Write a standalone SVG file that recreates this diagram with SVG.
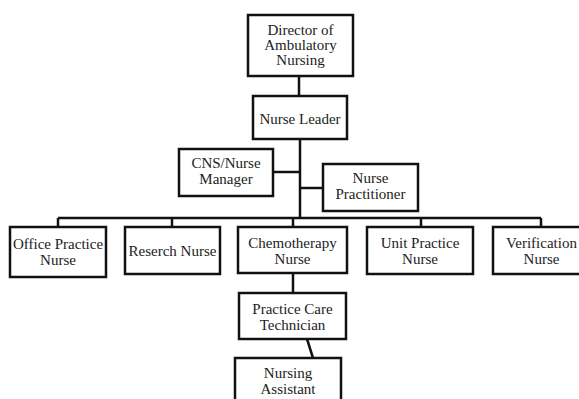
<svg xmlns="http://www.w3.org/2000/svg" width="579" height="399" viewBox="0 0 579 399">
<style>
.box{fill:#fff;stroke:#111;stroke-width:2.5}
.ln{fill:none;stroke:#111;stroke-width:2.5}
text{font-family:"Liberation Serif","Times New Roman",serif;font-size:15px;fill:#222;text-anchor:middle}
</style>
<rect width="579" height="399" fill="#fff"/>
<g id="connectors" class="ln">
<path d="M299,76V96"/>
<path d="M300,139V218"/>
<path d="M273,172H300"/>
<path d="M323,188H300"/>
<path d="M58,218H541"/>
<path d="M58,218V227"/>
<path d="M172,218V227"/>
<path d="M293,218V227"/>
<path d="M421,218V227"/>
<path d="M541,218V227"/>
<path d="M293,273V293"/>
<path d="M307,339L313,358"/>
</g>
<g id="director"><rect class="box" x="248" y="15" width="105" height="61"/><text x="300.5" y="35">Director of</text><text x="300.5" y="50">Ambulatory</text><text x="300.5" y="65">Nursing</text></g>
<g id="nurse-leader"><rect class="box" x="253" y="96" width="94" height="43"/><text x="300" y="124">Nurse Leader</text></g>
<g id="cns"><rect class="box" x="179" y="149" width="94" height="47"/><text x="226" y="168">CNS/Nurse</text><text x="226" y="184">Manager</text></g>
<g id="np"><rect class="box" x="323" y="164" width="95" height="47"/><text x="370.5" y="183">Nurse</text><text x="370.5" y="199">Practitioner</text></g>
<g id="office"><rect class="box" x="10" y="227" width="96" height="50"/><text x="58" y="249">Office Practice</text><text x="58" y="265">Nurse</text></g>
<g id="research"><rect class="box" x="125" y="227" width="95" height="47"/><text x="172.5" y="256">Reserch Nurse</text></g>
<g id="chemo"><rect class="box" x="238" y="227" width="109" height="46"/><text x="292.5" y="248">Chemotherapy</text><text x="292.5" y="264">Nurse</text></g>
<g id="unit"><rect class="box" x="367" y="227" width="106" height="47"/><text x="420" y="248">Unit Practice</text><text x="420" y="264">Nurse</text></g>
<g id="verification"><rect class="box" x="493" y="227" width="100" height="47"/><text x="541.5" y="248">Verification</text><text x="541.5" y="264">Nurse</text></g>
<g id="pct"><rect class="box" x="239" y="293" width="107" height="46"/><text x="292.5" y="314">Practice Care</text><text x="292.5" y="330">Technician</text></g>
<g id="na"><rect class="box" x="235" y="358" width="106" height="55"/><text x="288" y="378">Nursing</text><text x="288" y="394">Assistant</text></g>
</svg>
